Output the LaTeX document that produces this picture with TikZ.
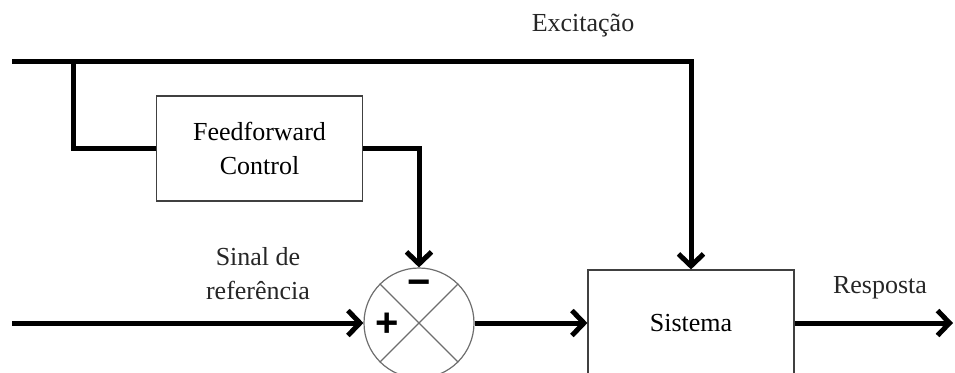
\documentclass[tikz,border=0pt]{standalone}
\usepackage{fontspec}
\setmainfont{Liberation Serif}
\newfontfamily\signfont{Liberation Sans}
\usepackage{xcolor}
\usetikzlibrary{arrows.meta,positioning,shapes}
\definecolor{boxline}{RGB}{64,64,64}
\definecolor{crossline}{RGB}{110,110,110}

\begin{document}
\begin{tikzpicture}[x=0.5pt,y=-0.5pt,
     >={Straight Barb[length=6pt,width=12.5pt]},
     block/.style={draw=boxline,line width=0.6pt,fill=white,align=center,inner sep=0pt,
                   minimum width=103pt,font=\fontsize{13}{17}\selectfont},
     summer/.style={circle,draw=crossline,line width=0.6pt,minimum size=55pt,inner sep=0pt},
     lbl/.style={align=center,inner sep=0pt,text=black!85,font=\fontsize{13}{17}\selectfont},
     sgn/.style={inner sep=0pt,font=\fontsize{20}{20}\selectfont\signfont\bfseries},
     edg/.style={line width=2.5pt,line join=miter,->},
     wire/.style={line width=2.5pt,line join=miter}]
    \clip (0,0) rectangle (955,372);
    \useasboundingbox (0,0) rectangle (955,372);
    % blocks
    \node[block,minimum height=52.5pt] (ff)  at (259.5,148.5) {Feedforward\\Control};
    \node[block,minimum height=53pt]   (sys) at (691,323)     {Sistema};
    \node[summer] (sum) at (419,323) {};
    \draw[crossline,line width=0.6pt] (sum.north west) -- (sum.south east);
    \draw[crossline,line width=0.6pt] (sum.north east) -- (sum.south west);
    \node[sgn] (minus) at (419,288) {−};
    \node[sgn] (plus)  at (387,325) {+};
    % free ends
    \coordinate (exin)  at (12,61);
    \coordinate (tap)   at (73,61);
    \coordinate (refin) at (12,323);
    \coordinate (out)   at (953,323);
    % connectors
    \draw[edg] (exin) -| (sys.north);
    \draw[wire] (tap) |- (ff.west);
    \draw[edg] (ff.east) -| (sum.north);
    \draw[edg] (refin) -- (sum.west);
    \draw[edg] (sum.east) -- (sys.west);
    \draw[edg] (sys.east) -- (out);
    % labels
    \node[lbl] (exlbl)  at (583,25)  {Excitação};
    \node[lbl] (reflbl) at (258,274) {Sinal de\\referência};
    \node[lbl] (reslbl) at (880,288) {Resposta};
  \end{tikzpicture}
\end{document}
